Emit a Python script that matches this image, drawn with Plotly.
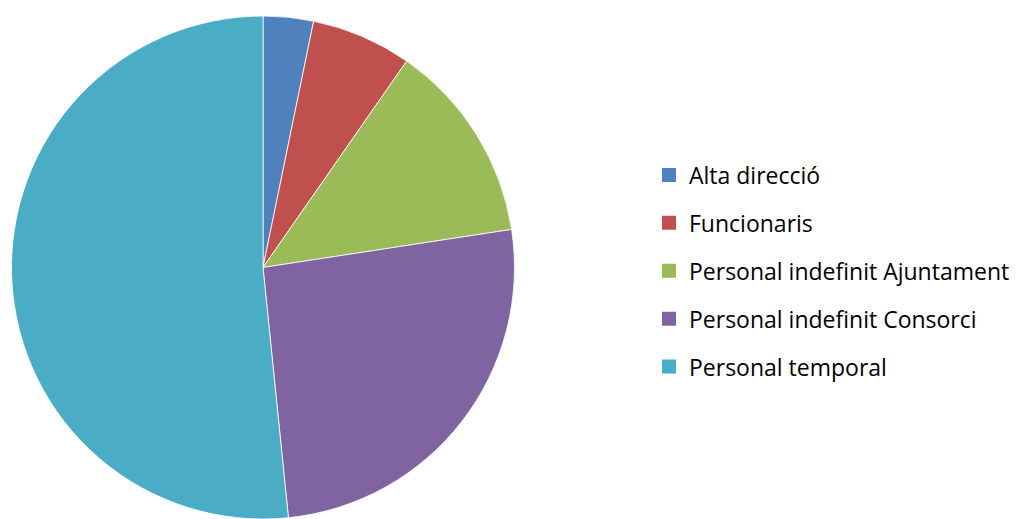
import plotly.graph_objects as go

categories = [
    "Alta direcció",
    "Funcionaris",
    "Personal indefinit Ajuntament",
    "Personal indefinit Consorci",
    "Personal temporal",
]
values = [1, 2, 4, 8, 16]
colors = ["#4F81BD", "#C0504D", "#9BBB59", "#8064A2", "#4BACC6"]

W, H = 1016, 519
cx = 263
top = 16
r = (H - top) / 2

fig = go.Figure()

fig.add_trace(go.Pie(
    labels=categories,
    values=values,
    marker=dict(colors=colors, line=dict(color="rgba(255,255,255,0.8)", width=1)),
    sort=False,
    direction="clockwise",
    rotation=0,
    textinfo="none",
    hoverinfo="label+value+percent",
    showlegend=False,
    domain=dict(x=[(cx - r) / W, (cx + r) / W], y=[0, 1]),
))

# Legend entries: one marker trace per category so the entries can be spaced apart
for i, (name, col) in enumerate(zip(categories, colors)):
    fig.add_trace(go.Scatter(
        x=[None], y=[None], mode="markers", name=name,
        marker=dict(symbol="square", size=14, color=col),
        legendgroup=f"g{i}", showlegend=True,
    ))

fig.update_layout(
    width=W, height=H,
    margin=dict(l=0, r=0, t=top, b=0),
    paper_bgcolor="white", plot_bgcolor="white",
    xaxis=dict(visible=False), yaxis=dict(visible=False),
    legend=dict(
        x=(672 - 23) / W, xanchor="left",
        y=0.493, yanchor="middle",
        font=dict(family="Open Sans", size=23, color="#000000"),
        tracegroupgap=15,
        itemwidth=30,
        bgcolor="rgba(0,0,0,0)",
    ),
    font=dict(family="Open Sans"),
)

fig.write_html("out.html")
